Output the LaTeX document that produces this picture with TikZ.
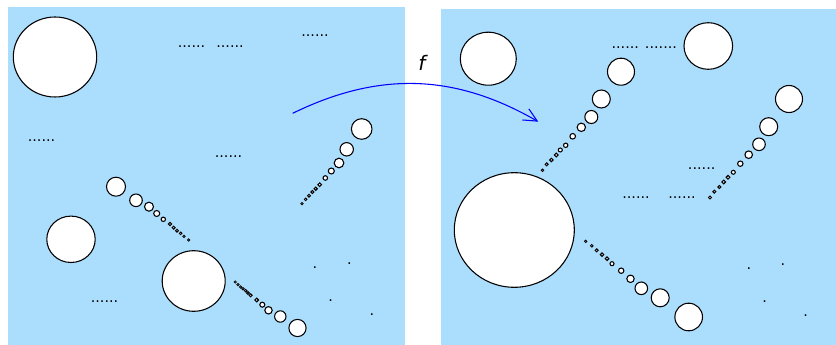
\documentclass[tikz,border=0pt]{standalone}
\usepackage{fontspec}
\setmainfont{DejaVu Sans}
\usepackage{xcolor}
\definecolor{paleblue}{RGB}{171,221,252}
\usetikzlibrary{arrows.meta}
\newcommand{\runsix}{......}
\newcommand{\runseven}{.......}
\newcommand{\runone}{.}

\begin{document}
\begin{tikzpicture}[x=0.75pt, y=-0.75pt,
    ball/.style={draw=black, fill=white, line width=0.8pt},
    bead/.style={draw=black, fill=white, line width={min(0.8,0.5*#1)*1pt}},
    dotrow/.style={inner sep=0pt, anchor=base, font=\fontsize{10.8}{12}\selectfont}]
    \useasboundingbox (0,0) rectangle (836,345);

    % Domain and image panels
    \fill[paleblue] (8,7) rectangle (405,345);
    \fill[paleblue] (441,9) rectangle (836,345);

    % Large balls, left panel
    \draw[ball] (55,57) ellipse [x radius=41.7, y radius=40];
    \draw[ball] (71,239.3) ellipse [x radius=24.2, y radius=23.2];
    \draw[ball] (193.7,281) ellipse [x radius=31.5, y radius=30.3];

    % Large balls, right panel
    \draw[ball] (488.3,58.7) ellipse [x radius=28, y radius=26.5];
    \draw[ball] (708.3,46) ellipse [x radius=24.3, y radius=23.3];
    \draw[ball] (514.3,230) ellipse [x radius=60, y radius=57.3];

    % Shrinking chains, left panel
    \foreach \x/\y/\r in {116/186.7/9.5, 136/200.3/6.3, 149/206.7/4.5, 156.7/213.5/3, 163.3/219.3/2.2,
        170/224/1.7, 173.7/227.7/1.5, 177/230.7/1.4, 180.7/233.3/1.3, 184/236.3/1.2, 188.7/240/1.2}
        \draw[bead=\r] (\x,\y) circle [radius=\r];
    \foreach \x/\y/\r in {235.3/282/1.1, 238/284.7/1.2, 240.7/287/1.2, 243/288.7/1.3, 245.7/290.7/1.3,
        248/293/1.4, 250.7/295.3/1.5, 256.7/300/1.8, 262.3/304.7/2.5, 268.5/310.3/3.7, 280.3/316.5/5.7, 297.5/328/8.6}
        \draw[bead=\r] (\x,\y) circle [radius=\r];
    \foreach \x/\y/\r in {361.7/129/10.3, 346.7/149.3/6.7, 339/163/4.8, 331.3/171/3, 325.3/178/2.3,
        319.7/184.7/1.8, 315.7/188.7/1.6, 312.3/192/1.5, 309/195.7/1.4, 305.7/199.3/1.3, 302/203.7/1.2}
        \draw[bead=\r] (\x,\y) circle [radius=\r];

    % Shrinking chains, right panel
    \foreach \x/\y/\r in {621/71.7/13.5, 601.3/99/9, 591.3/117/6.5, 581.3/127.3/4.2, 572.7/136.3/2.8,
        565.7/145.3/2.2, 560.3/150/2, 556.3/155/1.9, 551.3/160/1.7, 546.7/164.3/1.5, 542.5/170.3/1.3}
        \draw[bead=\r] (\x,\y) circle [radius=\r];
    \foreach \x/\y/\r in {585.7/241.3/1.2, 591.8/245.8/1.3, 596.7/250.3/1.5, 602/254.7/1.7, 607/258.7/1.8,
        612/263.7/2, 621.2/270.7/2.7, 630.5/278.8/3.7, 641.3/288.3/6.3, 660.2/297.8/9, 688.7/317/13.8}
        \draw[bead=\r] (\x,\y) circle [radius=\r];
    \foreach \x/\y/\r in {789/99/13.5, 768.7/126.7/9, 759/144.3/6.3, 748.7/154.7/3.8, 740.3/163.7/2.7,
        733.3/172.3/2, 728/177.3/1.8, 723.7/182/1.8, 719.3/187/1.5, 714.3/191.7/1.5, 710/197.5/1.5}
        \draw[bead=\r] (\x,\y) circle [radius=\r];

    % Dotted runs and lone points
    \foreach \x/\y/\t [count=\i] in {191.5/46.7/\runsix, 230/46.7/\runsix, 315/35.7/\runsix, 41.5/140.7/\runsix,
        228.5/156.7/\runsix, 104.5/302/\runsix, 625.3/47.7/\runsix, 661/47.7/\runseven, 701.7/168.7/\runsix,
        636/198/\runsix, 682/198/\runsix,
        315/268/\runone, 349.3/264/\runone, 330.7/301/\runone, 372/315/\runone,
        749/269/\runone, 783/265/\runone, 764.7/302/\runone, 805.7/316/\runone}
        \node[dotrow] (dots\i) at (\x,\y+0.8) {\t};

    % The map f
    \coordinate (mapfrom) at (292.7,113.3);
    \coordinate (mapto) at (538.3,121.7);
    \draw[blue, line width=0.8pt, -{Straight Barb[length=10pt, width=9.6pt]}] (mapfrom) to[bend left=28] (mapto);
    \node[font=\fontsize{15}{18}\selectfont] (maplabel) at (422,62.5) {\itshape f};
\end{tikzpicture}
\end{document}
